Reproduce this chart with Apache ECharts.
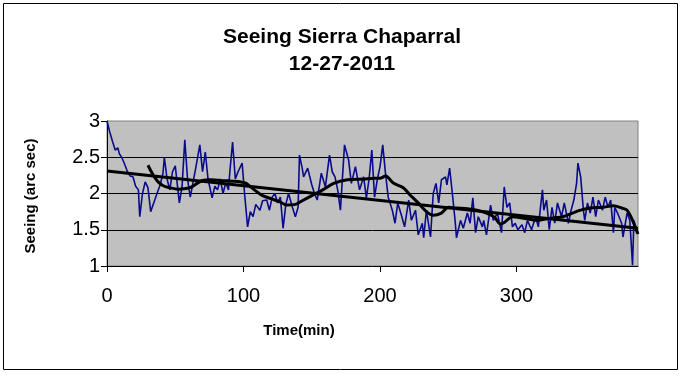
<!DOCTYPE html>
<html>
<head>
<meta charset="utf-8">
<script src="https://cdn.jsdelivr.net/npm/echarts@6/dist/echarts.min.js"></script>
<style>
  html, body { margin: 0; padding: 0; background: #fff; }
  #chart { width: 684px; height: 376px; }
</style>
</head>
<body>
<div id="chart"></div>
<script>
const seeing = [
  [0, 3.0], [2, 2.85], [4, 2.72], [6, 2.6], [8, 2.63], [9, 2.55], [11, 2.49], [13, 2.4],
  [15, 2.3], [17, 2.24], [19, 2.23], [21, 2.1], [23, 2.05], [24, 1.68], [26, 2.0], [28, 2.16],
  [30, 2.08], [32, 1.75], [33, 1.73], [35, 1.91], [37, 2.02], [39, 2.12], [41, 2.28], [42, 2.5],
  [44, 2.2], [46, 2.05], [48, 2.3], [50, 2.38], [53, 1.87], [55, 2.1], [57, 2.74], [59, 2.2],
  [61, 1.95], [63, 2.15], [65, 2.35], [68, 2.67], [70, 2.3], [72, 2.57], [74, 2.2], [77, 1.94],
  [79, 2.1], [81, 2.05], [83, 2.2], [85, 2.0], [87, 2.15], [89, 2.05], [90, 2.3], [92, 2.71],
  [94, 2.2], [96, 2.3], [99, 2.42], [101, 1.95], [103, 1.54], [105, 1.75], [107, 1.68], [109, 1.85],
  [112, 1.77], [114, 1.9], [117, 1.91], [119, 1.77], [121, 1.95], [123, 2.0], [125, 1.87], [127, 1.95],
  [129, 1.52], [131, 1.85], [133, 2.0], [136, 1.8], [138, 1.68], [140, 1.81], [141, 2.53], [143, 2.35],
  [144, 2.23], [147, 2.35], [150, 2.12], [152, 2.0], [154, 1.91], [157, 2.28], [160, 2.09], [163, 2.53],
  [165, 2.3], [167, 2.23], [169, 2.05], [171, 1.77], [174, 2.67], [177, 2.46], [179, 2.14], [182, 2.37],
  [185, 2.05], [188, 2.23], [190, 1.94], [192, 2.2], [194, 2.6], [196, 1.95], [198, 2.19], [200, 2.37],
  [202, 2.67], [204, 2.28], [206, 1.95], [209, 1.77], [211, 1.59], [213, 1.87], [216, 1.68], [218, 1.54],
  [221, 1.91], [223, 1.63], [226, 1.77], [228, 1.43], [231, 1.59], [232, 1.39], [234, 1.77], [237, 1.4],
  [239, 2.0], [241, 2.14], [243, 1.87], [245, 2.19], [248, 2.23], [249, 2.12], [251, 2.35], [253, 2.0],
  [255, 1.63], [256, 1.39], [259, 1.63], [261, 1.52], [264, 1.73], [266, 1.59], [268, 1.94], [270, 1.46],
  [272, 1.68], [275, 1.54], [276, 1.63], [278, 1.43], [281, 1.84], [283, 1.63], [286, 1.73], [289, 1.46],
  [291, 2.09], [293, 1.81], [295, 1.87], [297, 1.54], [299, 1.59], [301, 1.5], [304, 1.57], [306, 1.46],
  [308, 1.63], [311, 1.5], [314, 1.68], [316, 1.54], [319, 2.05], [320, 1.77], [322, 1.91], [324, 1.5],
  [326, 1.81], [328, 1.59], [330, 1.87], [333, 1.68], [335, 1.87], [338, 1.59], [340, 1.77], [342, 1.91],
  [344, 2.14], [345, 2.42], [347, 2.23], [349, 1.77], [350, 1.63], [352, 1.87], [354, 1.73], [356, 1.95],
  [358, 1.68], [360, 1.91], [363, 1.77], [365, 1.95], [367, 1.81], [369, 1.91], [371, 1.46], [372, 1.81],
  [374, 1.73], [377, 1.59], [378, 1.4], [381, 1.73], [383, 1.63], [385, 1.01], [386, 1.63], [388, 1.46]
]

// moving average curve as drawn
const movingAvg = [
  [30, 2.39], [34, 2.25], [38, 2.15], [42, 2.1], [46, 2.08], [52, 2.06], [58, 2.07], [62, 2.09],
  [66, 2.14], [70, 2.18], [76, 2.19], [84, 2.18], [92, 2.17], [98, 2.16], [102, 2.14], [106, 2.08],
  [110, 2.02], [114, 1.97], [120, 1.93], [126, 1.89], [132, 1.84], [138, 1.85], [143, 1.9], [151, 1.98],
  [158, 2.05], [166, 2.14], [176, 2.19], [188, 2.2], [196, 2.21], [200, 2.21], [204, 2.24], [210, 2.14],
  [217, 2.08], [222, 1.98], [228, 1.87], [234, 1.75], [239, 1.7], [245, 1.73], [250, 1.81], [256, 1.8],
  [264, 1.79], [271, 1.77], [278, 1.73], [284, 1.67], [288, 1.58], [291, 1.6], [297, 1.68], [305, 1.66],
  [315, 1.63], [325, 1.66], [334, 1.68], [341, 1.73], [347, 1.77], [354, 1.8], [363, 1.81], [371, 1.83],
  [377, 1.8], [381, 1.77], [385, 1.63], [389, 1.44]
]

// linear trend end points
const trend = [[0, 2.31], [389, 1.52]]

const xTicks = [0, 100, 200, 300]

const font = 'Liberation Sans Narrow, Liberation Sans, Arial, sans-serif'

const chart = echarts.init(document.getElementById('chart'), null, { renderer: 'canvas' })

chart.setOption({
  animation: false,
  backgroundColor: '#fff',
  title: {
    text: 'Seeing Sierra Chaparral\n12-27-2011',
    left: 'center',
    top: 19,
    textStyle: {
      fontFamily: 'Liberation Sans, Arial, sans-serif',
      fontSize: 21,
      fontWeight: 'bold',
      color: '#000',
      lineHeight: 27
    }
  },
  grid: {
    left: 107,
    right: 46,
    top: 121,
    bottom: 110,
    show: true,
    backgroundColor: '#C0C0C0',
    borderColor: '#808080',
    borderWidth: 1
  },
  xAxis: {
    type: 'value',
    min: 0,
    max: 389,
    interval: 100,
    axisLine: { show: true, onZero: false, lineStyle: { color: '#000', width: 1 } },
    axisTick: { show: true, length: 6, customValues: xTicks, lineStyle: { color: '#000' } },
    axisLabel: {
      customValues: xTicks,
      margin: 20,
      fontFamily: font,
      fontSize: 20,
      color: '#000'
    },
    splitLine: { show: false }
  },
  yAxis: {
    type: 'value',
    min: 1,
    max: 3,
    interval: 0.5,
    axisLine: { show: true, lineStyle: { color: '#000', width: 1 } },
    axisTick: { show: true, length: 6, lineStyle: { color: '#000' } },
    axisLabel: {
      margin: 7,
      fontFamily: font,
      fontSize: 20,
      color: '#000'
    },
    splitLine: {
      show: true,
      showMinLine: false,
      showMaxLine: false,
      lineStyle: { color: '#000', width: 1 }
    }
  },
  graphic: [
    {
      type: 'rect',
      shape: { x: 3.5, y: 3.5, width: 674, height: 366 },
      style: { fill: null, stroke: '#000', lineWidth: 1 },
      silent: true
    },
    {
      type: 'text',
      x: 299,
      y: 331,
      style: {
        text: 'Time(min)',
        font: 'bold 15px Liberation Sans, Arial, sans-serif',
        fill: '#000',
        align: 'center',
        verticalAlign: 'middle'
      }
    },
    {
      type: 'text',
      x: 31,
      y: 196,
      rotation: Math.PI / 2,
      style: {
        text: 'Seeing (arc sec)',
        font: 'bold 15px Liberation Sans, Arial, sans-serif',
        fill: '#000',
        align: 'center',
        verticalAlign: 'middle'
      }
    }
  ],
  series: [
    {
      name: 'Seeing',
      type: 'line',
      data: seeing,
      showSymbol: false,
      lineStyle: { color: '#0A0A8C', width: 1.6 },
      z: 2
    },
    {
      name: 'Moving average',
      type: 'line',
      data: movingAvg,
      showSymbol: false,
      smooth: 0.3,
      lineStyle: { color: '#000', width: 3 },
      z: 3
    },
    {
      name: 'Trend',
      type: 'line',
      data: trend,
      showSymbol: false,
      lineStyle: { color: '#000', width: 3 },
      z: 3
    }
  ]
})
</script>
</body>
</html>
